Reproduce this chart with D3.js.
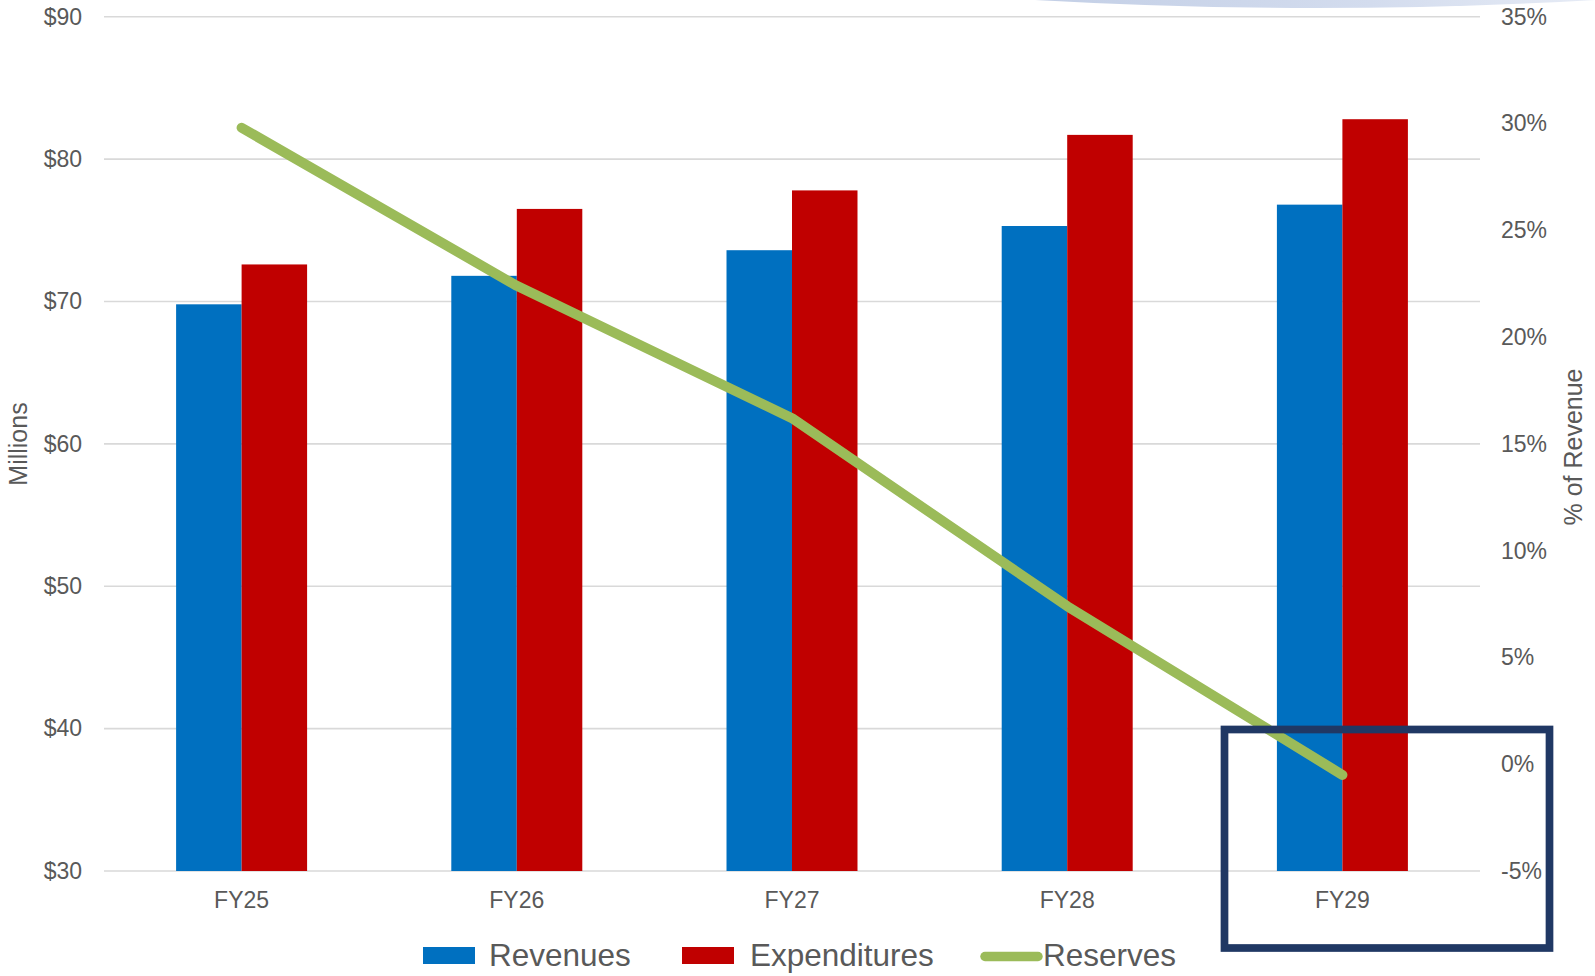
<!DOCTYPE html>
<html>
<head>
<meta charset="utf-8">
<script src="https://cdn.jsdelivr.net/npm/d3@7/dist/d3.min.js"></script>
<style>
  html, body { margin: 0; padding: 0; background: #ffffff; }
  svg { display: block; font-family: "Liberation Sans", Arial, sans-serif; }
</style>
</head>
<body>
<svg id="chart" width="1595" height="976"></svg>
<script>
// ---- data ----
const categories = ["FY25", "FY26", "FY27", "FY28", "FY29"];
const revenues = [69.8, 71.8, 73.6, 75.3, 76.8];
const expenditures = [72.6, 76.5, 77.8, 81.7, 82.8];
const reserves = [0.298, 0.224, 0.162, 0.074, -0.005];
const leftTicks = [30, 40, 50, 60, 70, 80, 90];
const rightTicks = [-0.05, 0, 0.05, 0.10, 0.15, 0.20, 0.25, 0.30, 0.35];
const seriesNames = ["Revenues", "Expenditures", "Reserves"];

// ---- layout ----
const plot = { left: 104, right: 1480, top: 16.7, bottom: 871 };
const colors = { Revenues: "#0070C0", Expenditures: "#C00000", Reserves: "#9BBB59" };
const textColor = "#595959";

const svg = d3.select("#chart");

// decorative shape at top right
const defs = svg.append("defs");
const grad = defs.append("linearGradient").attr("id", "topGrad")
  .attr("x1", "0%").attr("x2", "100%").attr("y1", "0%").attr("y2", "0%");
grad.append("stop").attr("offset", "0%").attr("stop-color", "#c3cfe6");
grad.append("stop").attr("offset", "60%").attr("stop-color", "#d3dcee");
grad.append("stop").attr("offset", "100%").attr("stop-color", "#e6ebf5");
svg.append("path").attr("d", "M1035,0 Q1315,16 1595,0 Z").attr("fill", "url(#topGrad)");

// scales
const x0 = d3.scaleBand().domain(categories).range([plot.left, plot.right]).paddingInner(0).paddingOuter(0);
const groupW = x0.bandwidth() * 0.476;
const x1 = d3.scaleBand().domain(["Revenues", "Expenditures"])
  .range([x0.bandwidth() / 2 - groupW / 2, x0.bandwidth() / 2 + groupW / 2]).padding(0);
const yL = d3.scaleLinear().domain([30, 90]).range([plot.bottom, plot.top]);
const yR = d3.scaleLinear().domain([-0.05, 0.35]).range([plot.bottom, plot.top]);

// gridlines
svg.append("g").selectAll("line").data(leftTicks).join("line")
  .attr("x1", plot.left).attr("x2", plot.right)
  .attr("y1", d => yL(d)).attr("y2", d => yL(d))
  .attr("stroke", "#d9d9d9").attr("stroke-width", 1.6);

// left axis labels
const leftAxis = d3.axisLeft(yL).tickValues(leftTicks).tickSize(0).tickPadding(0)
  .tickFormat(d => "$" + d);
const gL = svg.append("g").attr("transform", `translate(82,0)`).call(leftAxis);
gL.select(".domain").remove();
gL.selectAll("text").attr("font-size", 23).attr("fill", textColor)
  .attr("font-family", '"Liberation Sans", Arial, sans-serif');

// right axis labels
const pct = d3.format(".0%");
const rightAxis = d3.axisRight(yR).tickValues(rightTicks).tickSize(0).tickPadding(0)
  .tickFormat(d => pct(d).replace("\u2212", "-"));
const gR = svg.append("g").attr("transform", `translate(1501,0)`).call(rightAxis);
gR.select(".domain").remove();
gR.selectAll("text").attr("font-size", 23).attr("fill", textColor)
  .attr("font-family", '"Liberation Sans", Arial, sans-serif');

// category axis
const bottomAxis = d3.axisBottom(x0).tickSize(0).tickPadding(0);
const gB = svg.append("g").attr("transform", `translate(0,${plot.bottom})`).call(bottomAxis);
gB.select(".domain").remove();
gB.selectAll("text").attr("font-size", 23).attr("fill", textColor)
  .attr("dy", null).attr("y", 37)
  .attr("font-family", '"Liberation Sans", Arial, sans-serif');

// bars
const barData = categories.map((c, i) => ({
  cat: c,
  values: [
    { key: "Revenues", value: revenues[i] },
    { key: "Expenditures", value: expenditures[i] }
  ]
}));
svg.append("g").selectAll("g").data(barData).join("g")
  .attr("transform", d => `translate(${x0(d.cat)},0)`)
  .selectAll("rect").data(d => d.values).join("rect")
  .attr("x", d => x1(d.key))
  .attr("width", x1.bandwidth())
  .attr("y", d => yL(d.value))
  .attr("height", d => yL(30) - yL(d.value))
  .attr("fill", d => colors[d.key]);

// reserves line
const line = d3.line()
  .x((d, i) => x0(categories[i]) + x0.bandwidth() / 2)
  .y(d => yR(d));
svg.append("path").datum(reserves)
  .attr("d", line)
  .attr("fill", "none")
  .attr("stroke", colors.Reserves)
  .attr("stroke-width", 10)
  .attr("stroke-linecap", "round")
  .attr("stroke-linejoin", "round");

// axis titles
svg.append("text")
  .attr("transform", "translate(27,444) rotate(-90)")
  .attr("text-anchor", "middle")
  .attr("font-size", 25).attr("fill", textColor)
  .text("Millions");
svg.append("text")
  .attr("transform", "translate(1582,447) rotate(-90)")
  .attr("text-anchor", "middle")
  .attr("font-size", 25).attr("fill", textColor)
  .text("% of Revenue");

// legend
const legendItems = [
  { name: seriesNames[0], x: 423, tx: 489, type: "rect" },
  { name: seriesNames[1], x: 682, tx: 750, type: "rect" },
  { name: seriesNames[2], x: 980, tx: 1043, type: "line" }
];
const lg = svg.append("g");
legendItems.forEach(it => {
  if (it.type === "rect") {
    lg.append("rect").attr("x", it.x).attr("y", 947).attr("width", 52).attr("height", 17)
      .attr("fill", colors[it.name]);
  } else {
    lg.append("line").attr("x1", it.x + 5).attr("x2", it.x + 58)
      .attr("y1", 956.5).attr("y2", 956.5)
      .attr("stroke", colors[it.name]).attr("stroke-width", 9.5)
      .attr("stroke-linecap", "round");
  }
  lg.append("text").attr("x", it.tx).attr("y", 966)
    .attr("font-size", 31.5).attr("fill", textColor).text(it.name);
});

// highlight box around FY29
svg.append("rect")
  .attr("x", 1224.5).attr("y", 729.5).attr("width", 325).attr("height", 218.5)
  .attr("fill", "none").attr("stroke", "#203864").attr("stroke-width", 7.7);
</script>
</body>
</html>
